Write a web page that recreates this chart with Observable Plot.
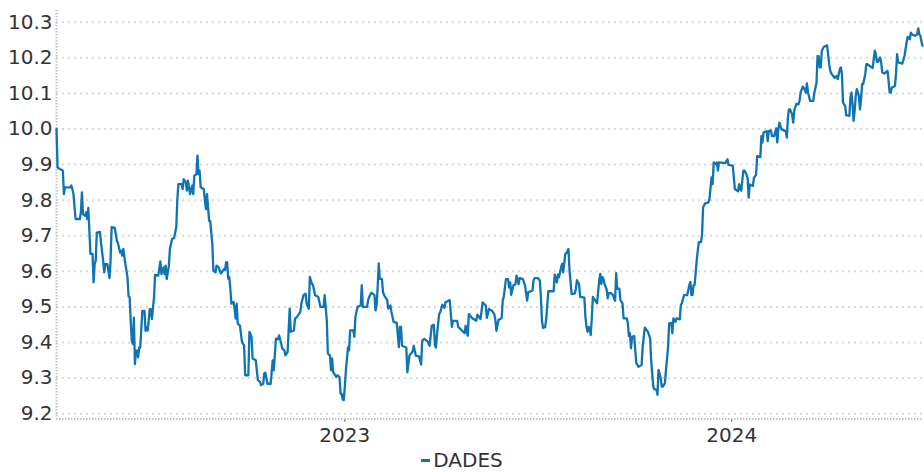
<!DOCTYPE html>
<html><head><meta charset="utf-8">
<script src="https://cdn.jsdelivr.net/npm/d3@7"></script>
<script src="https://cdn.jsdelivr.net/npm/@observablehq/plot@0.6"></script>
<style>
html,body{margin:0;padding:0;background:#fff;}
#chart{width:924px;}
.legend{position:absolute;left:0;top:448px;width:924px;display:flex;justify-content:center;align-items:center;font-family:"DejaVu Sans";font-size:20px;color:#333;line-height:24px;}
.sw{display:inline-block;width:9px;height:3px;background:#0e74b4;margin-right:3px;}
</style></head><body>
<div id="chart"></div>
<div class="legend"><span class="sw"></span><span id="lg"></span></div>
<script>
const seriesName = "DADES";
const yTicks = [9.2, 9.3, 9.4, 9.5, 9.6, 9.7, 9.8, 9.9, 10.0, 10.1, 10.2, 10.3];
const yDomain = [9.185, 10.333];
const xTicks = ["2023-01-01", "2024-01-01"];

const dates = [
"2022-04-04","2022-04-05","2022-04-10","2022-04-11","2022-04-12","2022-04-17","2022-04-18","2022-04-19","2022-04-20","2022-04-22","2022-04-26","2022-04-27","2022-04-28","2022-04-29",
"2022-05-01","2022-05-02","2022-05-03","2022-05-04","2022-05-05","2022-05-06","2022-05-08","2022-05-09","2022-05-10","2022-05-11","2022-05-12","2022-05-15","2022-05-16","2022-05-18","2022-05-19","2022-05-20","2022-05-22","2022-05-24","2022-05-25","2022-05-26","2022-05-29","2022-05-31",
"2022-06-01","2022-06-03","2022-06-04","2022-06-05","2022-06-06","2022-06-08","2022-06-10","2022-06-11","2022-06-12","2022-06-13","2022-06-14","2022-06-15","2022-06-16","2022-06-17","2022-06-18","2022-06-19","2022-06-20","2022-06-21","2022-06-22","2022-06-24","2022-06-26","2022-06-27","2022-06-28","2022-06-29",
"2022-07-01","2022-07-02","2022-07-03","2022-07-05","2022-07-06","2022-07-09","2022-07-11","2022-07-12","2022-07-14","2022-07-15","2022-07-16","2022-07-17","2022-07-19","2022-07-20","2022-07-22","2022-07-24","2022-07-26","2022-07-27","2022-07-28","2022-07-31",
"2022-08-01","2022-08-02","2022-08-04","2022-08-05","2022-08-06","2022-08-07","2022-08-08","2022-08-10","2022-08-11","2022-08-12","2022-08-14","2022-08-15","2022-08-16","2022-08-17","2022-08-18","2022-08-21","2022-08-22","2022-08-23","2022-08-24","2022-08-26","2022-08-27","2022-08-29","2022-08-30",
"2022-09-01","2022-09-02","2022-09-04","2022-09-06","2022-09-09","2022-09-10","2022-09-11","2022-09-12","2022-09-13","2022-09-14","2022-09-15","2022-09-16","2022-09-18","2022-09-19","2022-09-20","2022-09-21","2022-09-22","2022-09-24","2022-09-26","2022-09-28","2022-09-29",
"2022-10-02","2022-10-03","2022-10-05","2022-10-06","2022-10-09","2022-10-11","2022-10-13","2022-10-14","2022-10-16","2022-10-17","2022-10-18","2022-10-20","2022-10-23","2022-10-25","2022-10-26","2022-10-28","2022-10-30","2022-10-31",
"2022-11-02","2022-11-03","2022-11-05","2022-11-06","2022-11-08","2022-11-10","2022-11-11","2022-11-14","2022-11-15","2022-11-17","2022-11-20","2022-11-21","2022-11-23","2022-11-25","2022-11-26","2022-11-28","2022-11-29",
"2022-12-01","2022-12-02","2022-12-04","2022-12-07","2022-12-09","2022-12-12","2022-12-13","2022-12-15","2022-12-16","2022-12-18","2022-12-19","2022-12-20","2022-12-21","2022-12-24","2022-12-25","2022-12-27","2022-12-28","2022-12-29","2022-12-30","2022-12-31",
"2023-01-01","2023-01-02","2023-01-04","2023-01-05","2023-01-06","2023-01-09","2023-01-10","2023-01-11","2023-01-13","2023-01-16","2023-01-17","2023-01-18","2023-01-22","2023-01-23","2023-01-24","2023-01-26","2023-01-29","2023-01-30","2023-01-31",
"2023-02-01","2023-02-02","2023-02-03","2023-02-05","2023-02-06","2023-02-07","2023-02-10","2023-02-11","2023-02-13","2023-02-14","2023-02-16","2023-02-19","2023-02-21","2023-02-22","2023-02-23","2023-02-24","2023-02-28",
"2023-03-01","2023-03-03","2023-03-04","2023-03-06","2023-03-07","2023-03-09","2023-03-12","2023-03-14","2023-03-15","2023-03-17","2023-03-20","2023-03-22","2023-03-24","2023-03-26","2023-03-27","2023-03-28","2023-03-29","2023-03-31",
"2023-04-01","2023-04-03","2023-04-05","2023-04-06","2023-04-10","2023-04-12","2023-04-13","2023-04-17","2023-04-18","2023-04-21","2023-04-24","2023-04-25","2023-04-27","2023-04-28",
"2023-05-01","2023-05-05","2023-05-06","2023-05-07","2023-05-09","2023-05-10","2023-05-11","2023-05-14","2023-05-15","2023-05-17","2023-05-20","2023-05-22","2023-05-23","2023-05-24","2023-05-26","2023-05-29","2023-05-30","2023-05-31",
"2023-06-02","2023-06-04","2023-06-05","2023-06-06","2023-06-07","2023-06-09","2023-06-11","2023-06-12","2023-06-14","2023-06-15","2023-06-18","2023-06-20","2023-06-22","2023-06-23","2023-06-27","2023-06-28","2023-06-29",
"2023-07-02","2023-07-04","2023-07-05","2023-07-06","2023-07-07","2023-07-09","2023-07-10","2023-07-12","2023-07-17","2023-07-18","2023-07-20","2023-07-21","2023-07-22","2023-07-24","2023-07-25","2023-07-26","2023-07-28","2023-07-29","2023-07-31",
"2023-08-01","2023-08-03","2023-08-06","2023-08-07","2023-08-08","2023-08-10","2023-08-11","2023-08-15","2023-08-16","2023-08-17","2023-08-18","2023-08-19","2023-08-20","2023-08-21","2023-08-22","2023-08-23","2023-08-27","2023-08-29","2023-08-30","2023-08-31",
"2023-09-01","2023-09-02","2023-09-03","2023-09-05","2023-09-06","2023-09-07","2023-09-09","2023-09-11","2023-09-12","2023-09-13","2023-09-14","2023-09-15","2023-09-17","2023-09-18","2023-09-20","2023-09-21","2023-09-24","2023-09-25","2023-09-26","2023-09-27","2023-09-28","2023-09-29",
"2023-10-01","2023-10-02","2023-10-03","2023-10-05","2023-10-08","2023-10-09","2023-10-11","2023-10-14","2023-10-16","2023-10-17","2023-10-19","2023-10-20","2023-10-22","2023-10-23","2023-10-24","2023-10-26","2023-10-27","2023-10-28","2023-10-30","2023-10-31",
"2023-11-02","2023-11-03","2023-11-05","2023-11-06","2023-11-07","2023-11-09","2023-11-10","2023-11-13","2023-11-14","2023-11-15","2023-11-17","2023-11-20","2023-11-22","2023-11-23","2023-11-24","2023-11-25","2023-11-26","2023-11-27","2023-11-29","2023-11-30",
"2023-12-01","2023-12-03","2023-12-04","2023-12-05","2023-12-07","2023-12-10","2023-12-11","2023-12-13","2023-12-14","2023-12-15","2023-12-17","2023-12-18","2023-12-19","2023-12-20","2023-12-26","2023-12-28","2023-12-29",
"2024-01-02","2024-01-03","2024-01-04","2024-01-07","2024-01-08","2024-01-09","2024-01-10","2024-01-12","2024-01-13","2024-01-15","2024-01-16","2024-01-17","2024-01-18","2024-01-21","2024-01-22","2024-01-24","2024-01-25","2024-01-28","2024-01-29","2024-01-30","2024-01-31",
"2024-02-03","2024-02-04","2024-02-05","2024-02-07","2024-02-08","2024-02-10","2024-02-12","2024-02-13","2024-02-14","2024-02-15","2024-02-17","2024-02-21","2024-02-22","2024-02-23","2024-02-24","2024-02-25","2024-02-27","2024-02-28","2024-02-29",
"2024-03-02","2024-03-04","2024-03-05","2024-03-06","2024-03-08","2024-03-09","2024-03-11","2024-03-12","2024-03-13","2024-03-15","2024-03-18","2024-03-19","2024-03-21","2024-03-22","2024-03-23","2024-03-24","2024-03-25","2024-03-26","2024-03-28","2024-03-31",
"2024-04-02","2024-04-03","2024-04-04","2024-04-07","2024-04-09","2024-04-10","2024-04-12","2024-04-13","2024-04-14","2024-04-15","2024-04-17","2024-04-18","2024-04-21","2024-04-22","2024-04-23","2024-04-24","2024-04-25","2024-04-26","2024-04-27","2024-04-28","2024-04-30",
"2024-05-01","2024-05-02","2024-05-03","2024-05-04","2024-05-06","2024-05-07","2024-05-08","2024-05-13","2024-05-15","2024-05-16","2024-05-17","2024-05-18","2024-05-20","2024-05-21","2024-05-22","2024-05-24","2024-05-27","2024-05-28","2024-05-29","2024-05-30","2024-05-31",
"2024-06-03","2024-06-04","2024-06-05","2024-06-06","2024-06-10","2024-06-12","2024-06-14","2024-06-15","2024-06-17","2024-06-18","2024-06-19","2024-06-22","2024-06-24","2024-06-25","2024-06-26","2024-06-27","2024-06-28","2024-06-29"
];

const values = [
10.000,9.892,9.883,9.817,9.836,9.836,9.841,9.831,9.817,9.747,9.747,9.766,9.822,9.761,
9.756,9.766,9.747,9.778,9.714,9.649,9.649,9.569,9.620,9.630,9.709,9.711,9.681,9.630,9.597,9.620,9.620,9.581,9.630,9.724,9.722,9.686,
9.679,9.653,9.658,9.644,9.663,9.620,9.583,9.530,9.527,9.461,9.405,9.396,9.470,9.339,9.377,9.377,9.358,9.386,9.386,9.489,9.489,9.433,9.442,9.433,
9.494,9.494,9.466,9.527,9.590,9.588,9.628,9.592,9.611,9.592,9.616,9.578,9.616,9.663,9.691,9.694,9.724,9.803,9.845,9.845,
9.831,9.859,9.850,9.827,9.855,9.836,9.817,9.841,9.817,9.869,9.873,9.925,9.873,9.883,9.836,9.831,9.798,9.775,9.817,9.742,9.742,9.677,9.602,
9.597,9.616,9.611,9.594,9.606,9.604,9.625,9.626,9.579,9.584,9.551,9.509,9.514,9.495,9.467,9.509,9.453,9.448,9.401,9.392,9.308,
9.308,9.430,9.416,9.355,9.350,9.294,9.289,9.280,9.284,9.313,9.315,9.284,9.284,9.350,9.322,9.411,9.409,9.420,
9.397,9.383,9.378,9.364,9.373,9.495,9.430,9.434,9.467,9.472,9.486,9.509,9.533,9.537,9.509,9.495,9.584,
9.565,9.561,9.533,9.528,9.500,9.500,9.533,9.462,9.369,9.364,9.322,9.355,9.317,9.303,9.308,9.303,9.256,9.256,9.240,9.238,
9.275,9.322,9.386,9.378,9.434,9.434,9.416,9.472,9.500,9.504,9.561,9.500,9.500,9.519,9.528,9.540,9.533,9.490,9.504,
9.556,9.622,9.579,9.579,9.542,9.533,9.519,9.495,9.504,9.486,9.458,9.455,9.387,9.444,9.444,9.391,9.386,
9.316,9.363,9.368,9.375,9.391,9.363,9.361,9.338,9.405,9.410,9.403,9.391,9.447,9.450,9.391,9.386,9.424,9.480,
9.485,9.506,9.497,9.513,9.519,9.444,9.461,9.461,9.444,9.435,9.426,9.447,9.419,9.480,
9.469,9.461,9.478,9.475,9.466,9.489,9.513,9.504,9.469,9.494,9.489,9.480,9.464,9.433,9.463,9.469,9.518,9.529,
9.578,9.578,9.555,9.569,9.534,9.560,9.564,9.588,9.564,9.581,9.578,9.560,9.518,9.541,9.546,9.574,9.581,
9.581,9.574,9.527,9.461,9.441,9.443,9.466,9.544,9.544,9.591,9.569,9.591,9.583,9.611,9.621,9.597,9.649,9.651,9.663,
9.602,9.536,9.538,9.551,9.575,9.564,9.528,9.526,9.472,9.444,9.430,9.444,9.440,9.421,9.468,9.528,9.510,9.575,9.593,9.564,
9.584,9.579,9.565,9.549,9.524,9.539,9.539,9.533,9.524,9.517,9.595,9.551,9.551,9.519,9.510,9.468,9.468,9.454,9.418,9.426,9.384,9.416,
9.418,9.379,9.342,9.332,9.337,9.388,9.442,9.430,9.412,9.351,9.276,9.269,9.267,9.253,9.323,9.300,9.276,9.276,9.286,9.323,
9.388,9.454,9.455,9.426,9.468,9.458,9.468,9.465,9.505,9.510,9.533,9.533,9.561,9.570,9.533,9.533,9.561,9.561,9.631,9.659,
9.682,9.682,9.701,9.780,9.791,9.794,9.803,9.864,9.845,9.906,9.901,9.906,9.883,9.906,9.904,9.915,9.899,
9.897,9.864,9.831,9.825,9.845,9.831,9.827,9.883,9.883,9.872,9.863,9.807,9.844,9.840,9.863,9.871,9.924,9.921,9.980,9.962,9.990,
9.994,9.966,9.994,9.996,9.980,9.980,10.002,9.962,9.999,10.018,9.999,9.994,9.976,10.032,10.055,10.055,10.041,10.018,10.051,
10.071,10.069,10.079,10.102,10.119,10.116,10.102,10.128,10.102,10.079,10.079,10.102,10.130,10.205,10.205,10.173,10.173,10.220,10.231,10.235,
10.182,10.163,10.156,10.144,10.149,10.140,10.168,10.173,10.154,10.074,10.065,10.039,10.037,10.088,10.102,10.069,10.023,10.051,10.093,10.112,10.093,
10.055,10.083,10.126,10.126,10.154,10.182,10.182,10.171,10.220,10.210,10.189,10.189,10.201,10.187,10.159,10.156,10.163,10.135,10.102,10.102,10.116,
10.121,10.154,10.210,10.187,10.184,10.205,10.243,10.259,10.252,10.271,10.266,10.262,10.266,10.283,10.266,10.262,10.246,10.234
];

if (dates.length !== values.length) console.error("length mismatch", dates.length, values.length);
const n = Math.min(dates.length, values.length);
const data = [];
for (let i = 0; i < n; i++) data.push({date: new Date(dates[i] + "T00:00:00Z"), value: values[i]});

document.getElementById("lg").textContent = seriesName;

const chart = Plot.plot({
  width: 924,
  height: 452,
  marginLeft: 56,
  marginRight: 2,
  marginTop: 10,
  marginBottom: 33.5,
  style: {fontFamily: "DejaVu Sans", fontSize: "20px", color: "#333", background: "#fff", overflow: "visible"},
  x: {type: "utc", ticks: xTicks.map(d => new Date(d + "T00:00:00Z")), tickFormat: d3.utcFormat("%Y"), tickSize: 3, tickPadding: 6, label: null},
  y: {domain: yDomain, ticks: yTicks, tickFormat: d3.format(".1f"), tickSize: 0, tickPadding: 4, label: null},
  marks: [
    Plot.ruleY(yTicks, {stroke: "#d9d9d9", strokeWidth: 2, strokeDasharray: "2 4"}),
    Plot.ruleX([data[0].date], {stroke: "#c2c2c2", strokeWidth: 2, strokeDasharray: "1.5 1.5"}),
    Plot.ruleY([yDomain[0]], {stroke: "#c2c2c2", strokeWidth: 2, strokeDasharray: "1.5 1.5"}),
    Plot.lineY(data, {x: "date", y: "value", stroke: "#0e74b4", strokeWidth: 2.3})
  ]
});
document.getElementById("chart").appendChild(chart);
</script>
</body></html>
